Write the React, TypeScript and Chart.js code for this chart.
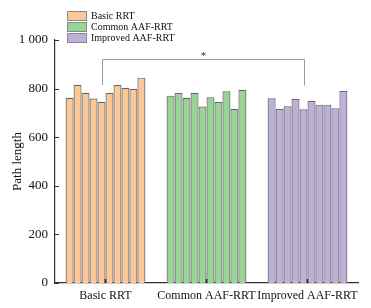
import React, { useEffect, useRef } from "react";
import { Chart, registerables } from "chart.js";

Chart.register(...registerables);

const categories = ["Basic RRT", "Common AAF-RRT", "Improved AAF-RRT"];
const basicRRT = [762, 816, 783, 759, 746, 782, 815, 803, 799, 845];
const commonAAF = [771, 782, 762, 783, 726, 764, 745, 789, 717, 795];
const improvedAAF = [760, 716, 727, 757, 715, 749, 734, 734, 719, 790];
const yTicks = [0, 200, 400, 600, 800, 1000];
const yTickLabels = ["0", "200", "400", "600", "800", "1 000"];
const bracketTop = 920;
const bracketLeftEnd = 815;
const bracketRightEnd = 812;
const bracketRun = 4;
const significance = "*";

const fills = ["#FDC896", "#96D596", "#BFAFDA"];
const FONT = "'Liberation Serif', 'Times New Roman', serif";

const extrasPlugin = {
  id: "extras",
  afterDraw(chart: any) {
    const { ctx, chartArea } = chart;
    const xs = chart.scales.x;
    const ys = chart.scales.y;
    ctx.save();
    ctx.strokeStyle = "#333";
    ctx.lineWidth = 1;
    yTicks.forEach((v) => {
      const y = Math.round(ys.getPixelForValue(v)) + 0.5;
      ctx.beginPath();
      ctx.moveTo(chartArea.left, y);
      ctx.lineTo(chartArea.left + 4, y);
      ctx.stroke();
    });
    ctx.lineWidth = 1.5;
    ctx.strokeStyle = "#222";
    categories.forEach((_, i) => {
      const x = xs.getPixelForValue(i);
      ctx.beginPath();
      ctx.moveTo(x, chartArea.bottom);
      ctx.lineTo(x, chartArea.bottom - 4);
      ctx.stroke();
    });
    const meta = chart.getDatasetMeta(bracketRun);
    const x1 = Math.round(meta.data[0].x) + 0.5;
    const x2 = Math.round(meta.data[2].x) + 0.5;
    const yt = Math.round(ys.getPixelForValue(bracketTop)) + 0.5;
    ctx.strokeStyle = "#999";
    ctx.lineWidth = 1;
    ctx.beginPath();
    ctx.moveTo(x1, ys.getPixelForValue(bracketLeftEnd));
    ctx.lineTo(x1, yt);
    ctx.lineTo(x2, yt);
    ctx.lineTo(x2, ys.getPixelForValue(bracketRightEnd));
    ctx.stroke();
    ctx.fillStyle = "#222";
    ctx.font = `10px ${FONT}`;
    ctx.textAlign = "center";
    ctx.textBaseline = "middle";
    ctx.fillText(significance, (x1 + x2) / 2, yt - 3);
    ctx.font = `10px ${FONT}`;
    ctx.textAlign = "left";
    categories.forEach((name, i) => {
      const top = 11 + i * 11;
      ctx.fillStyle = fills[i];
      ctx.fillRect(67, top, 20, 9.5);
      ctx.strokeStyle = "#888";
      ctx.lineWidth = 1;
      ctx.strokeRect(67.5, top + 0.5, 19, 9);
      ctx.fillStyle = "#111";
      ctx.fillText(name, 91, top + 5);
    });
    ctx.restore();
  },
};

export default function App() {
  const ref = useRef<HTMLCanvasElement>(null);
  useEffect(() => {
    if (!ref.current) return;
    const datasets = basicRRT.map((_, i) => ({
      label: `Run ${i + 1}`,
      data: [basicRRT[i], commonAAF[i], improvedAAF[i]],
      backgroundColor: fills,
      borderColor: "#666",
      borderWidth: 1.2,
      barPercentage: 1,
      categoryPercentage: 0.79,
    }));
    const chart = new Chart(ref.current, {
      type: "bar",
      data: { labels: categories, datasets },
      plugins: [extrasPlugin],
      options: {
        responsive: false,
        animation: false,
        layout: { padding: { top: 40, right: 13, left: 0, bottom: 0 } },
        plugins: { legend: { display: false }, tooltip: { enabled: false } },
        scales: {
          x: {
            grid: { display: false, drawTicks: false },
            border: { display: true, color: "#333", width: 1.2 },
            ticks: {
              color: "#111",
              font: { family: FONT, size: 12 },
              padding: 6,
              maxRotation: 0,
              minRotation: 0,
              autoSkip: false,
            },
            afterFit: (s: any) => {
              s.height = 25;
            },
          },
          y: {
            min: 0,
            max: 1000,
            grid: { display: false, drawTicks: false },
            border: { display: true, color: "#333", width: 1.2 },
            ticks: {
              stepSize: 200,
              color: "#111",
              font: { family: FONT, size: 13 },
              padding: 7,
              callback: (v: any) => {
                const idx = yTicks.indexOf(Number(v));
                return idx >= 0 ? yTickLabels[idx] : String(v);
              },
            },
            title: {
              display: true,
              text: "Path length",
              color: "#111",
              font: { family: FONT, size: 13 },
              padding: { top: 10, bottom: 0 },
            },
            afterFit: (s: any) => {
              s.width = 55;
            },
          },
        },
      },
    });
    return () => chart.destroy();
  }, []);
  return (
    <div style={{ position: "absolute", left: 0, top: 0, width: 371, height: 308 }}>
      <canvas ref={ref} width={371} height={308} />
    </div>
  );
}
